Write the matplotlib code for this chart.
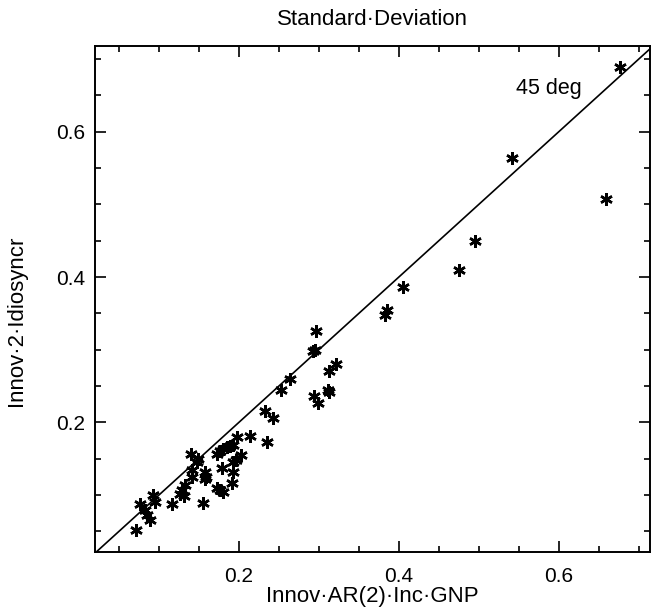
import matplotlib
matplotlib.use("Agg")
import matplotlib.pyplot as plt
import numpy as np

plt.rcParams['font.family'] = ['Liberation Sans', 'DejaVu Sans']

# standard deviations
ar2_gnp = [0.676, 0.541, 0.659, 0.495, 0.475, 0.405, 0.385, 0.383,
           0.297, 0.293, 0.295, 0.321, 0.313, 0.311, 0.313, 0.294, 0.299,
           0.264, 0.253, 0.233, 0.243, 0.235, 0.214, 0.197,
           0.172, 0.176, 0.180, 0.185, 0.189, 0.193,
           0.2025, 0.196, 0.192, 0.193, 0.191, 0.179,
           0.172, 0.176, 0.180, 0.1575, 0.1588, 0.1575, 0.1554,
           0.1396, 0.1491, 0.1471, 0.1409, 0.1409,
           0.1284, 0.1325, 0.1263, 0.1316, 0.1166,
           0.0929, 0.095, 0.0763, 0.0825, 0.0846, 0.0888, 0.0709]
idiosyncr = [0.689, 0.564, 0.507, 0.450, 0.410, 0.386, 0.355, 0.348,
             0.326, 0.298, 0.300, 0.280, 0.270, 0.244, 0.242, 0.236, 0.227,
             0.259, 0.245, 0.216, 0.206, 0.173, 0.181, 0.180,
             0.157, 0.160, 0.163, 0.166, 0.167, 0.169,
             0.155, 0.148, 0.146, 0.132, 0.116, 0.137,
             0.109, 0.107, 0.1045, 0.132, 0.125, 0.1215, 0.089,
             0.157, 0.150, 0.146, 0.134, 0.125,
             0.107, 0.114, 0.102, 0.099, 0.087,
             0.100, 0.091, 0.088, 0.079, 0.072, 0.066, 0.052]

fig = plt.figure(figsize=(6.51, 6.10), dpi=100)
ax = fig.add_axes([0.1459, 0.0956, 0.8525, 0.8295])

line = np.array([0.0, 1.0])
ax.plot(line, line, color='black', lw=1.2)
ax.plot(ar2_gnp, idiosyncr, linestyle='none', marker=(6, 2, 0),
        markersize=9, markeredgewidth=1.8, color='black')
ax.text(0.546, 0.66, '45 deg', fontsize=15.5, va='center', ha='left')

ax.set_xlim(0.02, 0.714)
ax.set_ylim(0.022, 0.7184)
ax.set_xticks([0.2, 0.4, 0.6])
ax.set_yticks([0.2, 0.4, 0.6])
ax.set_xticks(np.arange(0.05, 0.71, 0.05), minor=True)
ax.set_yticks(np.arange(0.05, 0.71, 0.05), minor=True)
ax.tick_params(which='both', direction='in', top=True, right=True, width=1.2)
ax.tick_params(which='major', length=8, labelsize=15)
ax.tick_params(axis='x', which='major', pad=11)
ax.tick_params(axis='y', which='major', pad=7)
ax.tick_params(which='minor', length=4)
for s in ax.spines.values():
    s.set_linewidth(1.4)

ax.set_title('Standard·Deviation', fontsize=16, pad=15)
ax.set_xlabel('Innov·AR(2)·Inc·GNP', fontsize=16, labelpad=0)
ax.set_ylabel('Innov·2·Idiosyncr', fontsize=16)
ax.yaxis.set_label_coords(-0.122, 0.456)

fig.savefig('out.png', dpi=100)
